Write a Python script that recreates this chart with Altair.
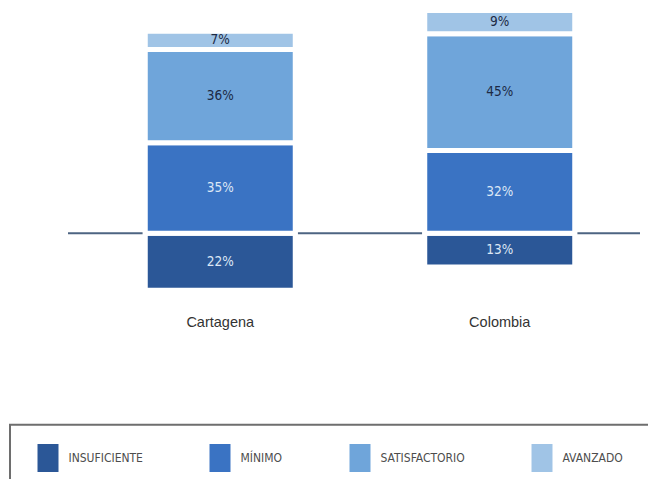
import altair as alt
import pandas as pd

categories = ["Cartagena", "Colombia"]
levels = ["INSUFICIENTE", "MÍNIMO", "SATISFACTORIO", "AVANZADO"]
insuficiente = [22, 13]
minimo = [35, 32]
satisfactorio = [36, 45]
avanzado = [7, 9]
colors = ["#2b5797", "#3a73c3", "#6fa5da", "#a0c4e6"]
text_colors = ["#dde7f5", "#dde7f5", "#1c2a45", "#1c2a45"]

NARROW = "Liberation Sans Narrow, DejaVu Sans Condensed, sans-serif"

rows = []
for i, cat in enumerate(categories):
    rows.append({"cat": cat, "level": levels[0], "y": 0, "y2": -insuficiente[i],
                 "val": insuficiente[i], "tc": text_colors[0]})
    base = 0
    for j, series in enumerate([minimo, satisfactorio, avanzado], start=1):
        v = series[i]
        rows.append({"cat": cat, "level": levels[j], "y": base, "y2": base + v,
                     "val": v, "tc": text_colors[j]})
        base += v
df = pd.DataFrame(rows)
df["mid"] = (df["y"] + df["y2"]) / 2
df["label"] = df["val"].astype(str) + "%"

cat_df = pd.DataFrame({"cat": categories})

xscale = alt.Scale(domain=categories, range=[72.5, 631.5], paddingInner=0.4633, paddingOuter=0.2317)
yscale = alt.Scale(domain=[-100, 100], range=[484.3, -33.7])

zero = alt.Chart(pd.DataFrame({"z": [0]})).mark_rule(color="#4d6482", strokeWidth=2).encode(
    x=alt.value(60), x2=alt.value(632), y=alt.Y("z:Q", scale=yscale, axis=None)
)

bars = alt.Chart(df).mark_bar(stroke="white", strokeWidth=5).encode(
    x=alt.X("cat:N", scale=xscale, axis=None),
    y=alt.Y("y:Q", scale=yscale, axis=None),
    y2="y2:Q",
    color=alt.Color(
        "level:N",
        scale=alt.Scale(domain=levels, range=colors),
        legend=alt.Legend(
            title=None,
            orient="none",
            legendX=26,
            legendY=436,
            direction="horizontal",
            columns=4,
            symbolType="M-0.75,-1L0.75,-1L0.75,1L-0.75,1Z",
            symbolSize=784,
            symbolStrokeWidth=0,
            symbolOpacity=1,
            labelFont=NARROW,
            labelFontSize=12,
            labelColor="#4d4d4d",
            labelOffset=6.5,
            columnPadding=63,
            padding=0,
        ),
    ),
)

seg_text = alt.Chart(df).mark_text(font=NARROW, fontSize=13.5, baseline="middle").encode(
    x=alt.X("cat:N", scale=xscale, axis=None),
    y=alt.Y("mid:Q", scale=yscale, axis=None),
    text="label:N",
    color=alt.Color("tc:N", scale=None),
)

cat_text = alt.Chart(cat_df).mark_text(
    font="Liberation Sans, sans-serif", fontSize=14.5, color="#333333", baseline="middle"
).encode(
    x=alt.X("cat:N", scale=xscale, axis=None),
    y=alt.value(315),
    text="cat:N",
)

box = alt.Chart(pd.DataFrame({"b": ["box"]})).mark_rect(
    fillOpacity=0, stroke="#6e6e6e", strokeWidth=2
).encode(
    x=alt.value(2), x2=alt.value(700), y=alt.value(416.7), y2=alt.value(540),
    detail="b:N",
)

chart = alt.layer(zero, bars, seg_text, cat_text, box).properties(
    width=640, height=471, autosize=alt.AutoSizeParams(type="none"), padding=0
).configure_view(strokeWidth=0)

chart.save("out.html", embed_options={"renderer": "svg", "actions": False})
